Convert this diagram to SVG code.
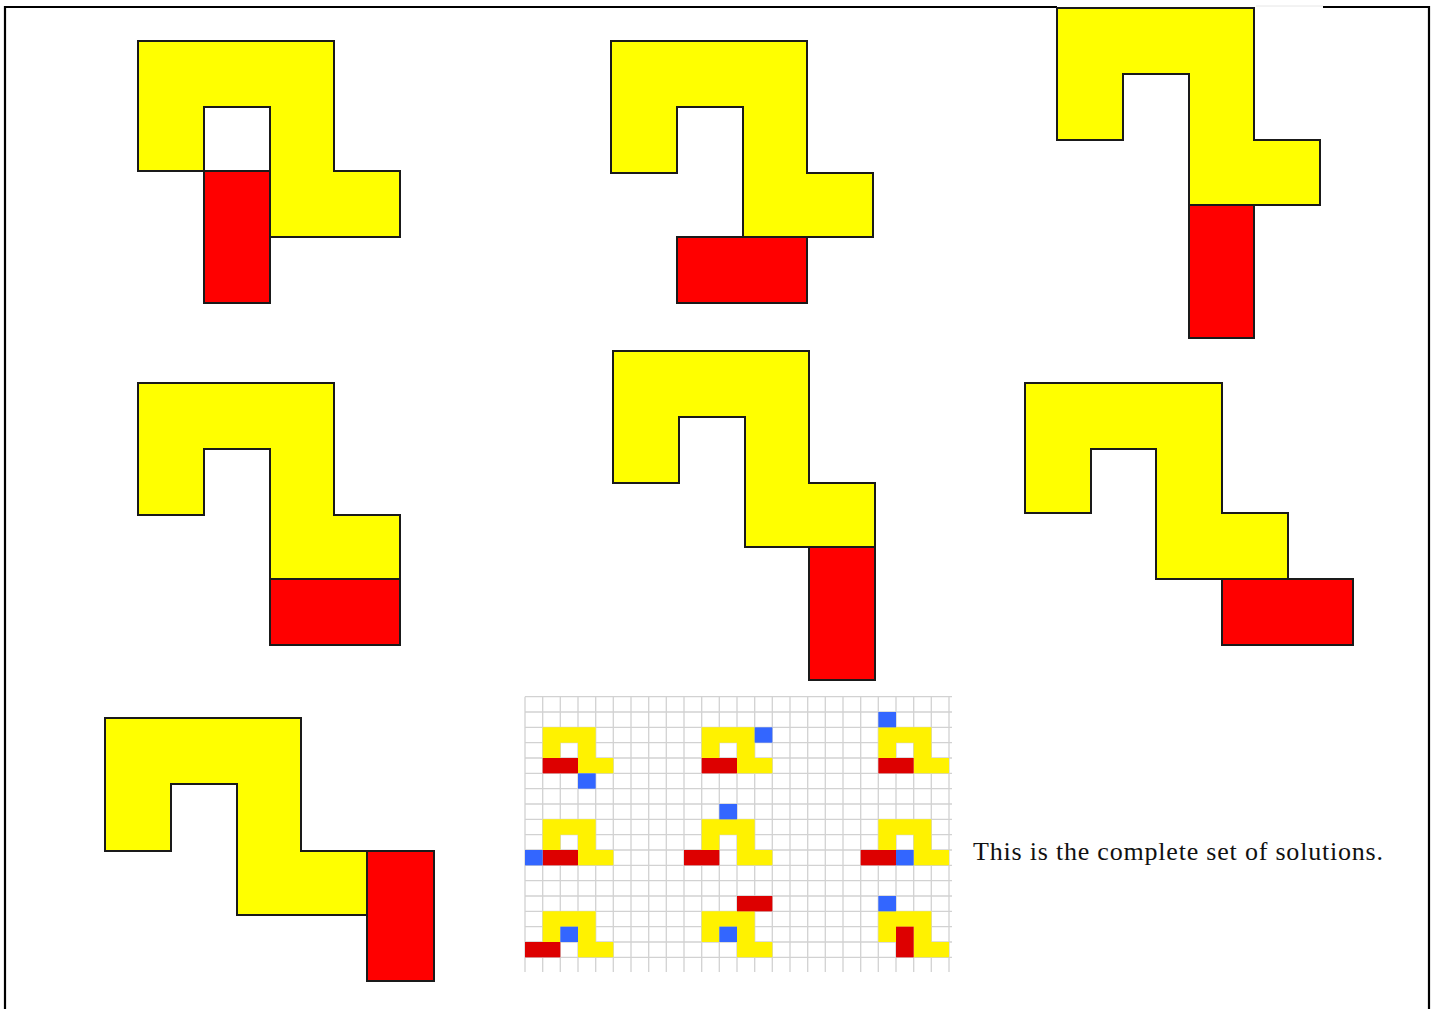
<svg xmlns="http://www.w3.org/2000/svg" xmlns:xlink="http://www.w3.org/1999/xlink" width="1437" height="1009" viewBox="0 0 1437 1009">
<style>
.y{fill:#FFFF00;stroke:#1a1a1a;stroke-width:2;stroke-linejoin:miter}
.r{fill:#FF0000;stroke:#1a1a1a;stroke-width:2}
.frame{stroke:#000;stroke-width:2.2;fill:none}
.grid{stroke:#d2d2d2;stroke-width:1.3;fill:none}
.gy{fill:#FFF200}
.gr{fill:#DD0000}
.gb{fill:#3366FF}
.t{font-family:"Liberation Serif","DejaVu Serif",serif;font-size:26px;fill:#111}
</style>
<defs>
<path id="Y" d="M0,0H3V2H4V3H2V1H1V2H0Z"/>
</defs>
<rect width="1437" height="1009" fill="#fff"/>
<g id="frame">
<path class="frame" d="M5,1009V7H1057M1323,7H1429V1009"/>
<path d="M1256,6H1323" stroke="#e6e6e6" stroke-width="1" fill="none"/>
</g>
<g id="shape1">
<path class="y" d="M138,41H334V171H400V237H270V107H204V171H138Z"/>
<rect class="r" x="204" y="171" width="66" height="132"/>
</g>
<g id="shape2">
<path class="y" d="M611,41H807V173H873V237H743V107H677V173H611Z"/>
<rect class="r" x="677" y="237" width="130" height="66"/>
</g>
<g id="shape3">
<path class="y" d="M1057,8H1254V140H1320V205H1189V74H1123V140H1057Z"/>
<rect class="r" x="1189" y="205" width="65" height="133"/>
</g>
<g id="shape4">
<path class="y" d="M138,383H334V515H400V579H270V449H204V515H138Z"/>
<rect class="r" x="270" y="579" width="130" height="66"/>
</g>
<g id="shape5">
<path class="y" d="M613,351H809V483H875V547H745V417H679V483H613Z"/>
<rect class="r" x="809" y="547" width="66" height="133"/>
</g>
<g id="shape6">
<path class="y" d="M1025,383H1222V513H1288V579H1156V449H1091V513H1025Z"/>
<rect class="r" x="1222" y="579" width="131" height="66"/>
</g>
<g id="shape7">
<path class="y" d="M105,718H301V851H367V915H237V784H171V851H105Z"/>
<rect class="r" x="367" y="851" width="67" height="130"/>
</g>
<g id="solutions-grid">
<path class="grid" d="M525,696.7V972M542.7,696.7V972M560.3,696.7V972M578,696.7V972M595.7,696.7V972M613.3,696.7V972M631,696.7V972M648.7,696.7V972M666.3,696.7V972M684,696.7V972M701.7,696.7V972M719.3,696.7V972M737,696.7V972M754.7,696.7V972M772.3,696.7V972M790,696.7V972M807.7,696.7V972M825.3,696.7V972M843,696.7V972M860.7,696.7V972M878.3,696.7V972M896,696.7V972M913.7,696.7V972M931.3,696.7V972M949,696.7V972
M525,696.7H952M525,712H952M525,727.3H952M525,742.7H952M525,758H952M525,773.3H952M525,788.7H952M525,804H952M525,819.3H952M525,834.7H952M525,850H952M525,865.3H952M525,880.7H952M525,896H952M525,911.3H952M525,926.7H952M525,942H952M525,957.3H952"/>
<g transform="translate(525,696.67) scale(17.667,15.333)">
<g class="gy">
<use xlink:href="#Y" href="#Y" x="1" y="2"/>
<use xlink:href="#Y" href="#Y" x="10" y="2"/>
<use xlink:href="#Y" href="#Y" x="20" y="2"/>
<use xlink:href="#Y" href="#Y" x="1" y="8"/>
<use xlink:href="#Y" href="#Y" x="10" y="8"/>
<use xlink:href="#Y" href="#Y" x="20" y="8"/>
<use xlink:href="#Y" href="#Y" x="1" y="14"/>
<use xlink:href="#Y" href="#Y" x="10" y="14"/>
<use xlink:href="#Y" href="#Y" x="20" y="14"/>
</g>
<g class="gr">
<rect x="1" y="4" width="2" height="1"/>
<rect x="10" y="4" width="2" height="1"/>
<rect x="20" y="4" width="2" height="1"/>
<rect x="1" y="10" width="2" height="1"/>
<rect x="9" y="10" width="2" height="1"/>
<rect x="19" y="10" width="2" height="1"/>
<rect x="0" y="16" width="2" height="1"/>
<rect x="12" y="13" width="2" height="1"/>
<rect x="21" y="15" width="1" height="2"/>
</g>
<g class="gb">
<rect x="3" y="5" width="1" height="1"/>
<rect x="13" y="2" width="1" height="1"/>
<rect x="20" y="1" width="1" height="1"/>
<rect x="0" y="10" width="1" height="1"/>
<rect x="11" y="7" width="1" height="1"/>
<rect x="21" y="10" width="1" height="1"/>
<rect x="2" y="15" width="1" height="1"/>
<rect x="11" y="15" width="1" height="1"/>
<rect x="20" y="13" width="1" height="1"/>
</g>
</g>
</g>
<g id="caption">
<text class="t" x="973" y="860" textLength="410" lengthAdjust="spacing">This is the complete set of solutions.</text>
</g>
</svg>
